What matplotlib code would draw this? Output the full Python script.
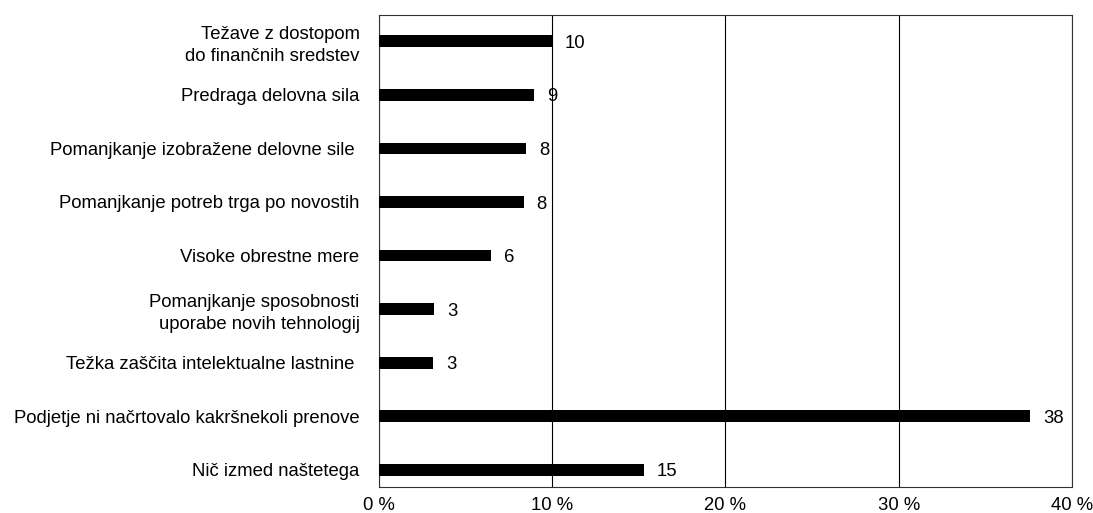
import matplotlib
matplotlib.use("Agg")
import matplotlib.pyplot as plt
from matplotlib.ticker import FuncFormatter

plt.rcParams["font.family"] = ["Liberation Sans", "DejaVu Sans"]
plt.rcParams["font.size"] = 13.3

categories = [
    "Težave z dostopom\ndo finančnih sredstev",
    "Predraga delovna sila",
    "Pomanjkanje izobražene delovne sile ",
    "Pomanjkanje potreb trga po novostih",
    "Visoke obrestne mere",
    "Pomanjkanje sposobnosti\nuporabe novih tehnologij",
    "Težka zaščita intelektualne lastnine ",
    "Podjetje ni načrtovalo kakršnekoli prenove",
    "Nič izmed naštetega",
]
shares = [9.97, 8.95, 8.5, 8.35, 6.47, 3.18, 3.12, 37.6, 15.3]
labels = ["10", "9", "8", "8", "6", "3", "3", "38", "15"]

fig = plt.figure(figsize=(10.93, 5.13), dpi=100)
ax = fig.add_axes([379 / 1093, 1 - 487 / 513, (1072 - 379) / 1093, (487 - 15) / 513])

pos = list(range(len(categories)))
ax.barh(pos, shares, height=0.22, color="black", zorder=3)

for p, v, lab in zip(pos, shares, labels):
    ax.text(v + 0.75, p + 0.04, lab, va="center", ha="left")

ax.set_xlim(0, 40)
ax.set_ylim(8.32, -0.49)
ax.set_yticks(pos)
ax.set_yticklabels(categories, linespacing=1.35)
ax.set_xticks([0, 10, 20, 30, 40])
ax.xaxis.set_major_formatter(FuncFormatter(lambda x, _: f"{x:.0f} %"))
ax.tick_params(axis="y", length=0, pad=14)
ax.tick_params(axis="x", length=0, pad=7)
ax.grid(axis="x", color="black", linewidth=0.8, zorder=0)
for s in ax.spines.values():
    s.set_color("#333333")
    s.set_linewidth(0.8)

fig.savefig("out.png", dpi=100)
